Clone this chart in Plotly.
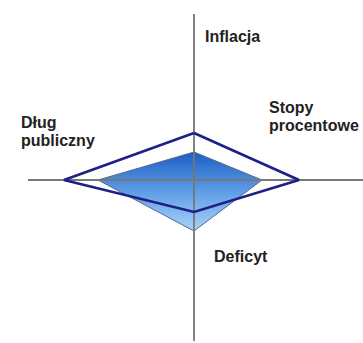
import plotly.graph_objects as go

# Four indicators, one per half-axis: up, right, down, left
categories = ["Inflacja", "Stopy procentowe", "Deficyt", "Dług publiczny"]
directions = [(0, 1), (1, 0), (0, -1), (-1, 0)]

# Reference level (outline) and current level (filled shape)
reference_values = [47, 105, 32, 130]
current_values = [28, 68, 51, 96]

# Extent of the cross axes
axis_up, axis_down, axis_left, axis_right = 166, 161, 166, 169

W, H = 363, 343
CX, CY = 194, 180  # pixel position of the origin


def polygon(values):
    xs = [d[0] * v for d, v in zip(directions, values)]
    ys = [d[1] * v for d, v in zip(directions, values)]
    return xs + xs[:1], ys + ys[:1]


fig = go.Figure()

cx, cy = polygon(current_values)
fig.add_trace(go.Scatter(
    x=cx, y=cy, mode="lines", fill="toself",
    fillgradient=dict(type="vertical",
                      colorscale=[[0, "#a9d3fb"], [0.5, "#5f9de6"], [1, "#1c5ec3"]]),
    line=dict(color="#55698c", width=1),
    hoverinfo="skip", showlegend=False,
))

axis_color = "#777777"
fig.add_trace(go.Scatter(x=[0, 0], y=[axis_up, -axis_down], mode="lines",
                         line=dict(color=axis_color, width=1.8),
                         hoverinfo="skip", showlegend=False))
fig.add_trace(go.Scatter(x=[-axis_left, axis_right], y=[0, 0], mode="lines",
                         line=dict(color=axis_color, width=1.8),
                         hoverinfo="skip", showlegend=False))

rx, ry = polygon(reference_values)
fig.add_trace(go.Scatter(
    x=rx, y=ry, mode="lines",
    line=dict(color="#1f1f86", width=2.6),
    hoverinfo="skip", showlegend=False,
))

# Label anchors (left edge, first-line centre) in axis units;
# multi-word labels are broken one word per line
label_pos = {
    "Inflacja": (9, 144),
    "Stopy procentowe": (73, 73),
    "Dług publiczny": (-175, 58),
    "Deficyt": (18, -76),
}
line_gap = 18
for name in categories:
    x0, y0 = label_pos[name]
    for i, part in enumerate(name.split(" ")):
        fig.add_annotation(
            x=x0, y=y0 - i * line_gap, xref="x", yref="y",
            text=part, showarrow=False, xanchor="left", yanchor="middle",
            font=dict(family="Arial, Liberation Sans, sans-serif", size=16,
                      color="#222222", weight="bold"),
        )

fig.update_xaxes(range=[-CX, W - CX], visible=False, fixedrange=True)
fig.update_yaxes(range=[CY - H, CY], visible=False, fixedrange=True)
fig.update_layout(
    width=W, height=H,
    margin=dict(l=0, r=0, t=0, b=0),
    paper_bgcolor="white", plot_bgcolor="white",
)

fig.write_html("out.html", config={"displayModeBar": False})
